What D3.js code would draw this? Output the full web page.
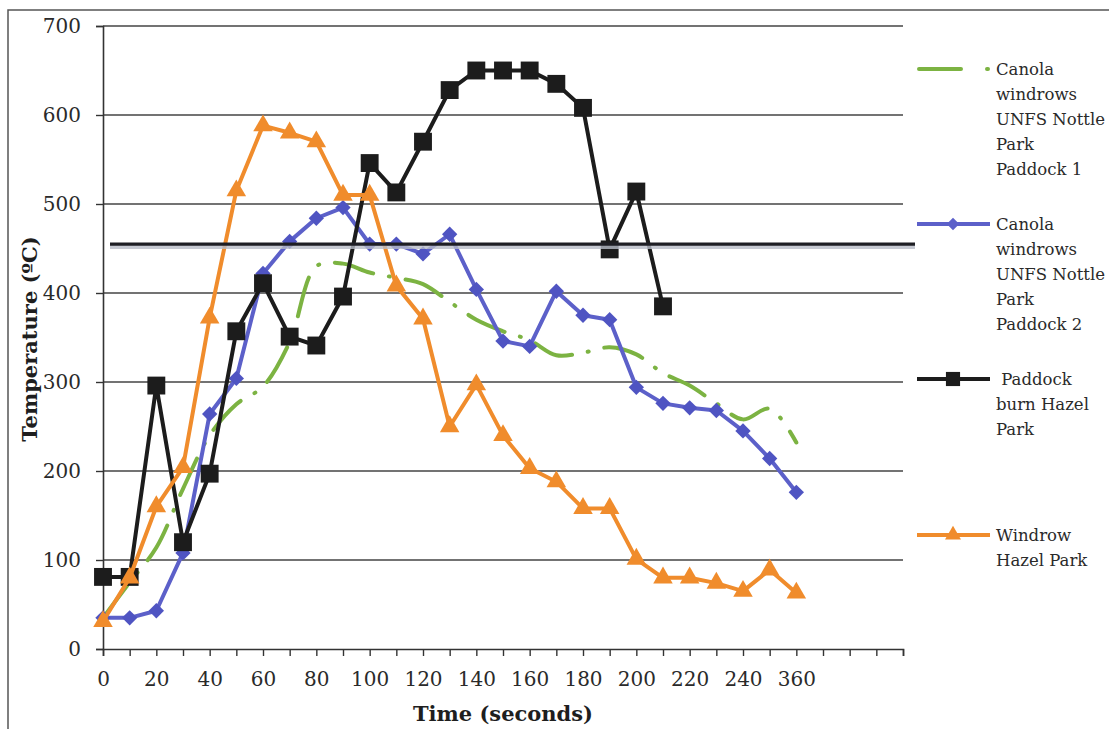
<!DOCTYPE html>
<html><head><meta charset="utf-8">
<script src="https://cdn.jsdelivr.net/npm/d3@7"></script>
<style>body{margin:0;background:#fff} svg{display:block}</style>
</head><body>
<svg id="chart" width="1109" height="729"></svg>
<script>
// ---- data ----
const timeLabels = ["0","10","20","30","40","50","60","70","80","90","100","110","120","130","140","150","160","170","180","190","200","210","220","230","240","250","360"];
const blankCategoryCount = 4;
const yTicks = [0,100,200,300,400,500,600,700];
const seriesNames = [
  ["Canola","windrows","UNFS Nottle","Park","Paddock 1"],
  ["Canola","windrows","UNFS Nottle","Park","Paddock 2"],
  [" Paddock","burn Hazel","Park"],
  ["Windrow","Hazel Park"]
];
const paddock1 = [35,75,114,180,240,275,295,345,430,433,423,417,410,390,370,357,347,330,333,339,331,310,296,276,258,270,232];
const paddock2 = [35,35,43,108,264,304,422,458,484,496,455,455,444,466,404,346,340,402,375,370,294,276,271,268,245,214,176];
const paddockBurn = [81,81,296,120,197,357,411,351,341,396,546,513,570,628,650,650,650,635,608,449,514,385];
const windrowHazel = [31,80,160,204,372,515,588,580,570,510,510,408,371,250,297,240,203,188,158,158,101,80,80,74,65,89,63];
const referenceTemp = 455;

// ---- layout ----
const svg = d3.select("#chart");
const font = "'DejaVu Serif', serif";
const nCat = timeLabels.length + blankCategoryCount;
const x = d3.scalePoint().domain(d3.range(nCat)).range([103, 903]);
const y = d3.scaleLinear().domain([0, 700]).range([649, 26]);

// outer border
svg.append("rect").attr("x", 8).attr("y", 10).attr("width", 1120).attr("height", 740)
  .attr("fill", "none").attr("stroke", "#555").attr("stroke-width", 1.5);

// gridlines
svg.append("g").selectAll("line").data(yTicks.filter(d => d > 0)).join("line")
  .attr("x1", x.range()[0]).attr("x2", x.range()[1])
  .attr("y1", d => y(d)).attr("y2", d => y(d))
  .attr("stroke", "#444").attr("stroke-width", 1.4);

// y axis
const yAxis = svg.append("g").attr("transform", `translate(${x.range()[0]},0)`)
  .call(d3.axisLeft(y).tickValues(yTicks).tickSize(7).tickPadding(15));
yAxis.select(".domain").attr("stroke", "#333").attr("stroke-width", 1.6);
yAxis.selectAll(".tick line").attr("stroke", "#333").attr("stroke-width", 1.4);
yAxis.selectAll("text").attr("font-family", font).attr("font-size", 20).attr("fill", "#2a2a2a");

// x axis
const xAxis = svg.append("g").attr("transform", `translate(0,${y(0)})`)
  .call(d3.axisBottom(x).tickSize(7).tickPadding(16)
    .tickFormat(i => (i % 2 === 0 && i < timeLabels.length) ? timeLabels[i] : ""));
xAxis.select(".domain").attr("stroke", "#333").attr("stroke-width", 1.6);
xAxis.selectAll(".tick line").attr("stroke", "#333").attr("stroke-width", 1.4);
xAxis.selectAll("text").attr("font-family", font).attr("font-size", 20).attr("fill", "#2a2a2a");

// axis titles
svg.append("text").attr("x", 503).attr("y", 721).attr("text-anchor", "middle")
  .attr("font-family", font).attr("font-weight", "bold").attr("font-size", 21).attr("fill", "#1e1e1e")
  .text("Time (seconds)");
svg.append("text").attr("transform", "translate(37,339) rotate(-90)").attr("text-anchor", "middle")
  .attr("font-family", font).attr("font-weight", "bold").attr("font-size", 21).attr("fill", "#1e1e1e")
  .text("Temperature (ºC)");

// series
const colors = { green: "#7cb342", blue: "#5c60c9", black: "#1c1c1c", orange: "#f08c2c" };
const line = d3.line().x((d, i) => x(i)).y(d => y(d));
const smooth = d3.line().x((d, i) => x(i)).y(d => y(d)).curve(d3.curveCatmullRom.alpha(0.5));
const dashPattern = "40,16,1,16";

svg.append("path").datum(paddock1).attr("d", smooth).attr("fill", "none")
  .attr("stroke", colors.green).attr("stroke-width", 4).attr("stroke-dasharray", dashPattern)
  .attr("stroke-linecap", "round");

function drawSeries(data, color, symbolType, size, mColor) {
  svg.append("path").datum(data).attr("d", line).attr("fill", "none")
    .attr("stroke", color).attr("stroke-width", 4).attr("stroke-linejoin", "round");
  svg.append("g").selectAll("path").data(data).join("path")
    .attr("transform", (d, i) => `translate(${x(i)},${y(d)})`)
    .attr("d", d3.symbol().type(symbolType).size(size))
    .attr("fill", mColor);
}
drawSeries(paddock2, colors.blue, d3.symbolDiamond2, 150, "#4f54c2");
drawSeries(paddockBurn, colors.black, d3.symbolSquare, 320, "#1c1c1c");
drawSeries(windrowHazel, colors.orange, d3.symbolTriangle, 165, "#f08c2c");

// reference line
const refY = y(referenceTemp);
svg.append("line").attr("x1", x.range()[0] + 7).attr("x2", x.range()[1] + 12)
  .attr("y1", refY + 3).attr("y2", refY + 3).attr("stroke", "#b8bcc8").attr("stroke-width", 4).attr("opacity", 0.8);
svg.append("line").attr("x1", x.range()[0] + 7).attr("x2", x.range()[1] + 12)
  .attr("y1", refY).attr("y2", refY).attr("stroke", "#1e1e24").attr("stroke-width", 3.2);

// legend
const legendY = [69, 224, 379, 535];
const legendColors = [colors.green, colors.blue, colors.black, colors.orange];
const legendSymbols = [null, d3.symbolDiamond2, d3.symbolSquare, d3.symbolTriangle];
const legendSizes = [0, 100, 200, 110];
legendY.forEach((ly, k) => {
  const g = svg.append("g");
  const l = g.append("line").attr("x1", 917).attr("x2", 990).attr("y1", ly).attr("y2", ly)
    .attr("stroke", legendColors[k]).attr("stroke-width", 4);
  if (k === 0) l.attr("stroke-dasharray", "42,26,1,40").attr("stroke-linecap", "round").attr("x1", 919);
  if (legendSymbols[k]) {
    g.append("path").attr("transform", `translate(953,${ly})`)
      .attr("d", d3.symbol().type(legendSymbols[k]).size(legendSizes[k])).attr("fill", legendColors[k]);
  }
  const t = g.append("text").attr("font-family", font).attr("font-size", 16.5).attr("fill", "#2a2a2a")
    .attr("x", 996).attr("y", ly + 6);
  seriesNames[k].forEach((s, j) => {
    t.append("tspan").attr("x", 996).attr("dy", j === 0 ? 0 : 25).attr("xml:space", "preserve").text(s);
  });
});
</script>
</body></html>
